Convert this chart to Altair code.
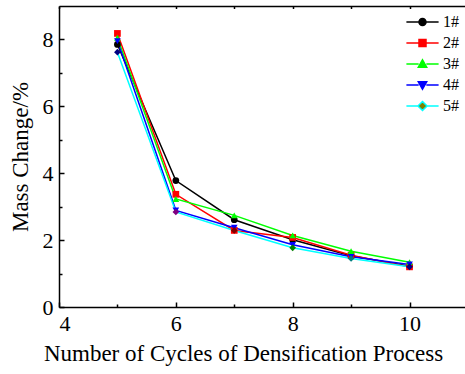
import altair as alt
import pandas as pd

cycles = [5, 6, 7, 8, 9, 10]
series_names = ["1#", "2#", "3#", "4#", "5#"]
s1 = [7.85, 3.78, 2.61, 2.01, 1.53, 1.22]
s2 = [8.18, 3.37, 2.29, 2.08, 1.55, 1.20]
s3 = [8.05, 3.23, 2.74, 2.14, 1.67, 1.34]
s4 = [7.95, 2.89, 2.37, 1.86, 1.50, 1.27]
s5 = [7.62, 2.84, 2.29, 1.77, 1.45, 1.20]
line_colors = ["#000000", "#ff0000", "#00ff00", "#0000ff", "#00ffff"]
legend_marker_colors = ["#000000", "#ff0000", "#00ff00", "#0000ff", "#808000"]
s5_marker_colors = ["#000080", "#800080", "#800000", "#008000", "#008080", "#000080"]
plot_shapes = ["circle", "square", "triangle-up", "triangle-down", "diamond"]
legend_shapes = [
    "M-4.6,0H-1M1,0H4.6M-1,0A1,1 0 1,0 1,0A1,1 0 1,0 -1,0Z",
    "M-4.6,0H-1M1,0H4.6M-1,-1H1V1H-1Z",
    "M-4.6,0H-1.1M1.1,0H4.6M0,-1.2L1.2,0.9H-1.2Z",
    "M-4.6,0H-1.1M1.1,0H4.6M0,1.2L1.2,-0.9H-1.2Z",
    "M-4.6,0H-1.3M1.3,0H4.6M0,-1.3L1.3,0L0,1.3L-1.3,0Z",
]

rows = []
for name, vals, col in zip(series_names, [s1, s2, s3, s4, s5], line_colors):
    for i, (c, v) in enumerate(zip(cycles, vals)):
        mcol = s5_marker_colors[i] if name == "5#" else col
        rows.append({"series": name, "cycle": c, "mass": v, "mcolor": mcol})
df = pd.DataFrame(rows)

FONT = "Liberation Serif"
xscale = alt.Scale(domain=[4, 10.95], nice=False, zero=False)
yscale = alt.Scale(domain=[0, 9], nice=False, zero=False)

def tick_axis(orient, values, size):
    return alt.Axis(orient=orient, values=values, labels=False, domain=False, grid=False,
                    title=None, ticks=True, tickSize=size, offset=-size,
                    tickColor="black", tickWidth=1.5)

base = alt.Chart(df)

lines = base.mark_line(strokeWidth=1.5).encode(
    x=alt.X("cycle:Q", scale=xscale,
            axis=alt.Axis(orient="bottom", values=[4, 6, 8, 10], ticks=False, grid=False,
                          domainColor="black", domainWidth=1.5, labelFont=FONT,
                          labelFontSize=22, labelColor="black", labelPadding=6,
                          title="Number of Cycles of Densification Process",
                          titleFont=FONT, titleFontSize=23, titleFontWeight="normal",
                          titleColor="black", titlePadding=8, titleX=184, titleAnchor="middle")),
    y=alt.Y("mass:Q", scale=yscale,
            axis=alt.Axis(orient="left", values=[0, 2, 4, 6, 8], ticks=False, grid=False,
                          domainColor="black", domainWidth=1.5, labelFont=FONT,
                          labelFontSize=22, labelColor="black", labelPadding=6,
                          title="Mass Change/%", titleFont=FONT, titleFontSize=23,
                          titleFontWeight="normal", titleColor="black", titlePadding=10)),
    color=alt.Color("series:N", scale=alt.Scale(domain=series_names, range=line_colors), legend=None),
    order=alt.Order("cycle:Q"),
)

points = base.mark_point(filled=True, size=45, opacity=1).encode(
    x=alt.X("cycle:Q", scale=xscale, axis=tick_axis("bottom", [4, 6, 8, 10], 5)),
    y=alt.Y("mass:Q", scale=yscale, axis=tick_axis("left", [0, 2, 4, 6, 8], 5)),
    shape=alt.Shape("series:N", scale=alt.Scale(domain=series_names, range=plot_shapes), legend=None),
    fill=alt.Fill("mcolor:N", scale=None),
)

legend_layer = base.mark_point(filled=True, size=49, opacity=0).encode(
    x=alt.X("cycle:Q", scale=xscale, axis=tick_axis("bottom", [5, 7, 9], 3)),
    y=alt.Y("mass:Q", scale=yscale, axis=tick_axis("left", [1, 3, 5, 7], 3)),
    fill=alt.Fill("series:N", scale=alt.Scale(domain=series_names, range=legend_marker_colors), title=None),
    stroke=alt.Stroke("series:N", scale=alt.Scale(domain=series_names, range=line_colors), title=None),
    shape=alt.Shape("series:N", scale=alt.Scale(domain=series_names, range=legend_shapes), title=None),
)

top_frame = base.mark_point(opacity=0).encode(
    x=alt.X("cycle:Q", scale=xscale,
            axis=alt.Axis(orient="top", labels=False, ticks=False, grid=False, title=None,
                          domainColor="black", domainWidth=1.5)),
    y=alt.Y("mass:Q", scale=yscale, axis=None),
)

top_ticks = base.mark_point(opacity=0).encode(
    x=alt.X("cycle:Q", scale=xscale, axis=tick_axis("top", [4, 5, 6, 7, 8, 9, 10], 2.5)),
    y=alt.Y("mass:Q", scale=yscale, axis=None),
)

chart = alt.layer(lines, points, legend_layer, top_frame, top_ticks).resolve_axis(
    x="independent", y="independent"
).resolve_scale(
    shape="independent", fill="independent", color="independent", stroke="independent"
).properties(
    width=406, height=301,
    autosize=alt.AutoSizeParams(type="none"),
    padding={"left": 59, "top": 6, "right": 0, "bottom": 67},
).configure_view(stroke=None).configure_legend(
    orient="none", legendX=355.5, legendY=8, symbolSize=49, symbolStrokeWidth=1.5,
    labelFont=FONT, labelFontSize=16, labelColor="black", labelOffset=12.5,
    rowPadding=5, padding=0, symbolOpacity=1,
)

chart.save("out.html", embed_options={"renderer": "svg", "actions": False})
